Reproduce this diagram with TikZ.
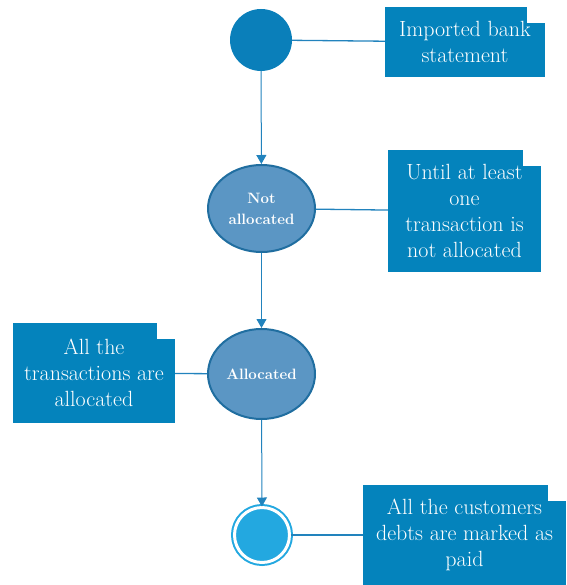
\documentclass[tikz,border=0pt]{standalone}
\usetikzlibrary{shapes.geometric,arrows.meta}
\definecolor{noteblue}{HTML}{0483BC}
\definecolor{startblue}{HTML}{0A7FBA}
\definecolor{stateblue}{HTML}{5B96C4}
\definecolor{stateedge}{HTML}{206EA0}
\definecolor{endblue}{HTML}{23A8E0}
\definecolor{lineblue}{HTML}{2283BD}
\newcommand{\NoteFont}{\fontsize{22}{26}\selectfont}
\newcommand{\StateFont}{\fontsize{15}{21}\selectfont\bfseries}
\tikzset{
  note/.style={rectangle, fill=noteblue, text=white, align=center, inner sep=0pt,
    font=\NoteFont,
    path picture={\fill[white] ([xshift=-18pt]path picture bounding box.north east)
      rectangle ([yshift=-16pt]path picture bounding box.north east);}},
  state/.style={ellipse, fill=stateblue, draw=stateedge, line width=2pt,
    text=white, align=center, inner sep=0pt, font=\StateFont, minimum width=107pt},
  flow/.style={color=lineblue, line width=1pt, -{Triangle[length=9pt,width=10pt]}},
  link/.style={draw=lineblue, line width=1.3pt}
}
\begin{document}
\begin{tikzpicture}[x=1pt,y=-1pt]
\useasboundingbox (0,0) rectangle (566,585);
\node[circle, fill=startblue, minimum size=62pt, inner sep=0pt] (start) at (261,40) {};
\node[state, minimum height=87pt] (notalloc) at (261.5,208.5) {Not\\allocated};
\node[state, minimum height=90pt] (alloc) at (261.5,374) {Allocated};
\node[circle, fill=endblue, draw=endblue, double=white, double distance=3pt,
      line width=2pt, minimum size=55pt, inner sep=0pt] (final) at (262,535) {};

\node[note, minimum width=160pt, minimum height=70pt] (n-import) at (465,42)
     {Imported bank\\statement};
\node[note, minimum width=153pt, minimum height=122pt] (n-until) at (464.5,211)
     {Until at least\\one\\transaction is\\not allocated};
\node[note, minimum width=162pt, minimum height=100pt] (n-all) at (94,373)
     {All the\\transactions are\\allocated};
\node[note, minimum width=203pt, minimum height=100pt] (n-paid) at (464.5,535)
     {All the customers\\debts are marked as\\paid};

\draw[flow] (start) -- (notalloc);
\draw[flow] (notalloc) -- (alloc);
\draw[flow] (alloc) -- (final);

\draw[link] (start) -- (n-import);
\draw[link] (notalloc) -- (n-until);
\draw[link] (n-all) -- (alloc);
\draw[link] (final) -- (n-paid);
\end{tikzpicture}
\end{document}
